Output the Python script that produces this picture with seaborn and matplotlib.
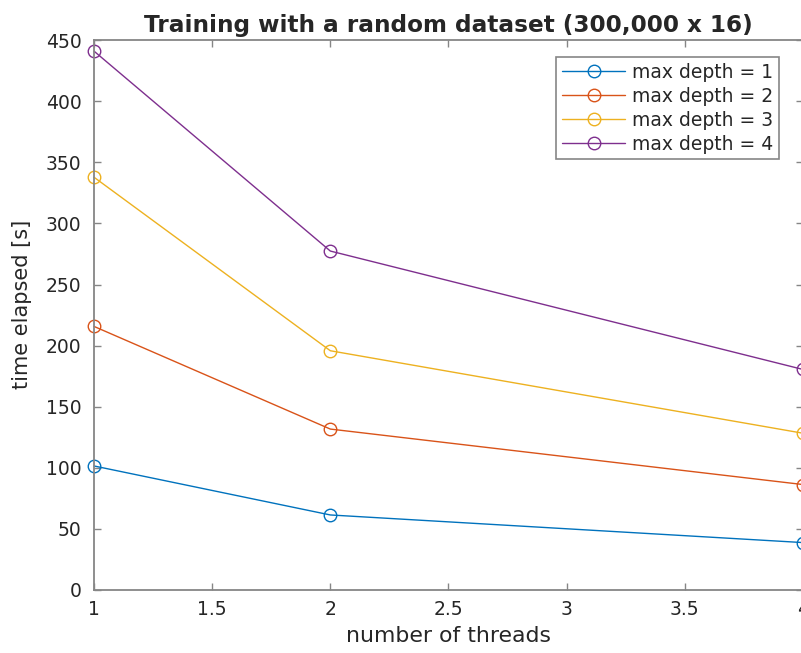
import pandas as pd
import seaborn as sns
import matplotlib.pyplot as plt

threads = [1, 2, 4]
depth_1 = [101.5, 61.4, 38.8]
depth_2 = [215.7, 131.7, 86.3]
depth_3 = [337.8, 195.8, 128.3]
depth_4 = [441.0, 277.4, 180.5]
labels = ["max depth = 1", "max depth = 2", "max depth = 3", "max depth = 4"]
colors = ["#0072BD", "#D95319", "#EDB120", "#7E2F8E"]

rows = []
for lab, vals in zip(labels, [depth_1, depth_2, depth_3, depth_4]):
  for t, v in zip(threads, vals):
    rows.append({"threads": t, "time": v, "depth": lab})
df = pd.DataFrame(rows)

sns.set_style("ticks")
plt.rcParams["font.family"] = ["DejaVu Sans"]

fig = plt.figure(figsize=(8.01, 6.53), dpi=100)
ax = fig.add_axes([0.1174, 0.0965, 0.885, 0.842])

sns.lineplot(data=df, x="threads", y="time", hue="depth", hue_order=labels,
             palette=colors, marker="o", markersize=9, linewidth=1.0,
             legend=False, ax=ax)
for line, c in zip(ax.lines, colors):
  line.set_markerfacecolor("none")
  line.set_markeredgecolor(c)
  line.set_markeredgewidth(1.0)
  line.set_clip_on(False)

ax.set_xlim(1, 4)
ax.set_ylim(0, 450)
ax.set_xticks([1, 1.5, 2, 2.5, 3, 3.5, 4])
ax.set_xticklabels(["1", "1.5", "2", "2.5", "3", "3.5", "4"])
ax.set_yticks(range(0, 451, 50))

for s in ax.spines.values():
  s.set_visible(True)
  s.set_color("#868686")
  s.set_linewidth(1.3)
ax.tick_params(direction="in", length=5, width=1.0, color="#868686",
               labelsize=13.5, labelcolor="#262626", top=True, right=True)
ax.tick_params(axis="y", pad=9)
ax.tick_params(axis="x", pad=7)

ax.set_title("Training with a random dataset (300,000 x 16)", fontsize=16.7,
             fontweight="bold", pad=6)
ax.set_xlabel("number of threads", fontsize=15.8, color="#262626", va="top")
ax.set_ylabel("time elapsed [s]", fontsize=15, color="#262626")
ax.xaxis.set_label_coords(0.5, -0.065)
ax.yaxis.set_label_coords(-0.087, 0.52)

leg = ax.legend(ax.lines, labels, loc="upper left", bbox_to_anchor=(556 / 801, 1 - 57 / 653),
                bbox_transform=fig.transFigure, fontsize=13.5, frameon=True,
                fancybox=False, borderpad=0.3, labelspacing=0.27,
                handlelength=3.4, handletextpad=0.35, borderaxespad=0)
leg.get_frame().set_edgecolor("#868686")
leg.get_frame().set_linewidth(1.2)
leg.get_frame().set_alpha(1)

fig.savefig("out.png", dpi=100)
